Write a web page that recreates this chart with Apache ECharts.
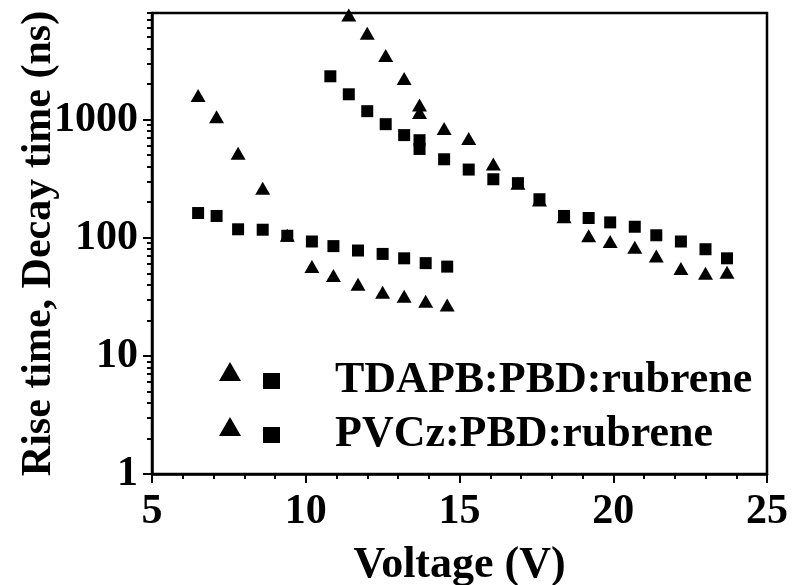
<!DOCTYPE html>
<html>
<head>
<meta charset="utf-8">
<script src="https://cdn.jsdelivr.net/npm/echarts@6/dist/echarts.min.js"></script>
<style>
  html, body { margin: 0; padding: 0; background: #fff; }
  #chart { width: 797px; height: 585px; }
</style>
</head>
<body>
<div id="chart"></div>
<script>
  // voltages and times
  var tdapbVoltage = [6.5, 7.1, 7.8, 8.6, 9.4, 10.2, 10.9, 11.7, 12.5, 13.2, 13.9, 14.6];
  var tdapbTriangle = [1600, 1060, 520, 263, 105, 57, 48, 40.5, 34.5, 32, 29, 27];
  var tdapbSquare = [162, 153, 118, 117, 104, 93, 85, 78, 73, 67, 61, 57];

  var pvczVoltage = [10.8, 11.4, 12.0, 12.6, 13.2, 13.7, 13.7, 14.5, 15.3, 16.1, 16.9, 17.6, 18.4, 19.2, 19.9, 20.7, 21.4, 22.2, 23.0, 23.7];
  var pvczTriangle = [null, 7700, 5400, 3500, 2230, 1330, 1150, 843, 694, 421, 290, 209, 151, 104, 93, 83, 70, 55, 50, 51];
  var pvczSquare = [2330, 1640, 1180, 916, 740, 670, 565, 462, 378, 313, 290, 212, 153, 147, 135, 124, 105, 93, 80, 67];

  var yMajorTicks = [1, 10, 100, 1000];
  var yMinorTicks = [2, 3, 4, 5, 6, 7, 8, 9, 20, 30, 40, 50, 60, 70, 80, 90,
    200, 300, 400, 500, 600, 700, 800, 900, 2000, 3000, 4000, 5000, 6000, 7000, 8000];

  var legendText = {
    'TDAPB decay': 'TDAPB:PBD:rubrene',
    'PVCz decay': 'PVCz:PBD:rubrene'
  };

  var font = 'Liberation Serif';

  function pairs(xs, ys) {
    var out = [];
    for (var i = 0; i < xs.length; i++) {
      if (ys[i] != null) out.push([xs[i], ys[i]]);
    }
    return out;
  }

  function scatter(name, symbol, size, xs, ys) {
    return {
      name: name,
      type: 'scatter',
      symbol: symbol,
      symbolSize: size,
      itemStyle: { color: '#000', opacity: 1 },
      data: pairs(xs, ys)
    };
  }

  var chart = echarts.init(document.getElementById('chart'));
  chart.setOption({
    animation: false,
    backgroundColor: '#fff',
    grid: {
      left: 152, right: 30, top: 13, bottom: 111,
      outerBoundsMode: 'none',
      show: true, borderColor: '#000', borderWidth: 2.5
    },
    legend: [{
      data: ['TDAPB rise', 'PVCz rise'],
      orient: 'vertical',
      left: 214, top: 357,
      itemWidth: 22, itemHeight: 19,
      itemGap: 36,
      formatter: function () { return ''; },
      textStyle: { fontSize: 1 },
      itemStyle: { opacity: 1 }
    }, {
      data: ['TDAPB decay', 'PVCz decay'],
      orient: 'vertical',
      left: 258, top: 354,
      itemWidth: 17, itemHeight: 16,
      itemGap: 10,
      formatter: function (name) { return legendText[name]; },
      itemStyle: { opacity: 1 },
      textStyle: {
        fontFamily: font, fontWeight: 'bold', fontSize: 44, color: '#000',
        lineHeight: 44, padding: [0, 0, 0, 50]
      }
    }],
    xAxis: {
      type: 'value',
      min: 5, max: 25, interval: 5,
      name: 'Voltage (V)',
      nameLocation: 'middle',
      nameGap: 70,
      nameMoveOverlap: false,
      nameTextStyle: { fontFamily: font, fontWeight: 'bold', fontSize: 44, color: '#000' },
      axisLine: { lineStyle: { color: '#000', width: 2.5 } },
      axisTick: { length: 9, lineStyle: { color: '#000', width: 2 } },
      minorTick: { show: true, splitNumber: 5, length: 5, lineStyle: { color: '#000', width: 2 } },
      axisLabel: { fontFamily: font, fontWeight: 'bold', fontSize: 42, color: '#000', margin: 17 },
      splitLine: { show: false }
    },
    yAxis: [{
      type: 'log',
      logBase: 10,
      min: 1, max: 8000,
      name: 'Rise time, Decay time (ns)',
      nameLocation: 'middle',
      nameGap: 92,
      nameMoveOverlap: false,
      nameTextStyle: { fontFamily: font, fontWeight: 'bold', fontSize: 42, color: '#000' },
      axisLine: { lineStyle: { color: '#000', width: 2.5 } },
      axisTick: { length: 9, customValues: yMajorTicks, lineStyle: { color: '#000', width: 2 } },
      axisLabel: {
        customValues: yMajorTicks,
        formatter: function (v) { return String(v); },
        fontFamily: font, fontWeight: 'bold', fontSize: 42, color: '#000', margin: 14
      },
      splitLine: { show: false }
    }, {
      type: 'log',
      logBase: 10,
      min: 1, max: 8000,
      position: 'left',
      axisLine: { show: false },
      axisTick: { length: 5, customValues: yMinorTicks, lineStyle: { color: '#000', width: 2 } },
      axisLabel: { show: false },
      splitLine: { show: false }
    }],
    series: [
      scatter('TDAPB rise', 'triangle', [15, 13], tdapbVoltage, tdapbTriangle),
      scatter('TDAPB decay', 'rect', 12, tdapbVoltage, tdapbSquare),
      scatter('PVCz rise', 'triangle', [15, 13], pvczVoltage, pvczTriangle),
      scatter('PVCz decay', 'rect', 12, pvczVoltage, pvczSquare)
    ]
  });
</script>
</body>
</html>
